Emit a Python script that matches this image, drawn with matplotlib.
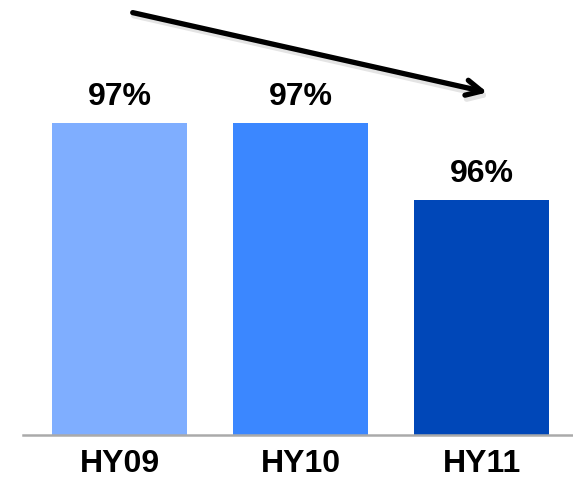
import numpy as np
import matplotlib
matplotlib.use("Agg")
import matplotlib.pyplot as plt

plt.rcParams["font.family"] = ["Liberation Sans", "DejaVu Sans"]

# data
periods = ["HY09", "HY10", "HY11"]
share = [97, 97, 96]
share_labels = ["97%", "97%", "96%"]
colors = ["#7FAEFF", "#3B87FF", "#0047B8"]

fig = plt.figure(figsize=(5.73, 4.82), dpi=100)
ax = fig.add_axes([23 / 573, 1 - 435 / 482, 1 - 23 / 573, 435 / 482])

x = np.arange(len(periods))
bars = ax.bar(x, share, width=0.75, color=colors, zorder=2)

ax.set_xlim(-0.533, 2.505)
ax.set_ylim(92.95, 98.6)

for b, lab in zip(bars, share_labels):
    ax.annotate(lab, (b.get_x() + b.get_width() / 2, b.get_height()),
                xytext=(0, 8), textcoords="offset points",
                ha="center", va="bottom", fontsize=23, fontweight="bold")

ax.set_xticks(x)
ax.set_xticklabels(periods, fontsize=23, fontweight="bold")
ax.tick_params(axis="x", length=0, pad=10)
ax.set_yticks([])
for side in ["top", "right", "left"]:
    ax.spines[side].set_visible(False)
ax.spines["bottom"].set_color("#AAAAAA")
ax.spines["bottom"].set_linewidth(1.8)

# trend arrow, with a faint shadow
ax.annotate("", xy=(492 / 573, 1 - 97 / 482), xytext=(131 / 573, 1 - 15 / 482),
            xycoords="figure fraction", textcoords="figure fraction",
            arrowprops=dict(arrowstyle="->,head_length=1.1,head_width=0.55", color="#E4E4E4", lw=4))
ax.annotate("", xy=(490 / 573, 1 - 93 / 482), xytext=(130 / 573, 1 - 12 / 482),
            xycoords="figure fraction", textcoords="figure fraction",
            arrowprops=dict(arrowstyle="->,head_length=1.1,head_width=0.55", color="black", lw=3.8,
                            capstyle="round", joinstyle="round"))

fig.savefig("out.png", dpi=100)
